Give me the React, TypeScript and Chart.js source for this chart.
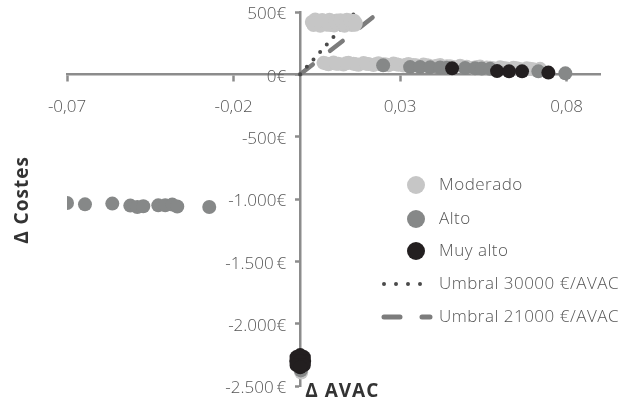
import { useEffect, useRef } from 'react';
import { Chart, registerables } from 'chart.js';

Chart.register(...registerables);

// Axis ticks and their printed labels
const X_TICKS = [-0.07, -0.02, 0.03, 0.08];
const X_TICK_LABELS = ['-0,07', '-0,02', '0,03', '0,08'];
const Y_TICKS = [500, 0, -500, -1000, -1500, -2000, -2500];
const Y_TICK_LABELS = ['500€', '0€', '-500€', '-1.000€', '-1.500\u2009€', '-2.000€', '-2.500\u2009€'];

// Δ AVAC, Δ Costes pairs per risk group
const MODERADO: [number, number][] = [
  [0.0035, 420], [0.004, 395], [0.0045, 440], [0.0052, 410], [0.006, 390],
  [0.0066, 435], [0.0072, 415], [0.008, 398], [0.0088, 438], [0.0095, 412],
  [0.0102, 392], [0.011, 432], [0.0118, 405], [0.0125, 420], [0.0133, 390],
  [0.014, 438], [0.0148, 410], [0.0155, 395], [0.0162, 430], [0.0167, 412],
  [0.0038, 408], [0.0056, 425], [0.0076, 428], [0.0091, 396], [0.0106, 418],
  [0.0121, 434], [0.0137, 414], [0.0151, 432], [0.0165, 398],
  [0.007, 92], [0.0085, 80], [0.01, 95], [0.0115, 85], [0.013, 78],
  [0.0145, 92], [0.016, 84], [0.0175, 76], [0.019, 90], [0.0205, 82],
  [0.022, 74], [0.0235, 88], [0.025, 80], [0.0265, 72], [0.028, 86],
  [0.0295, 76], [0.031, 70], [0.0325, 82], [0.034, 74], [0.0355, 66],
  [0.037, 78], [0.0385, 70], [0.04, 62], [0.042, 74], [0.044, 64],
  [0.046, 58], [0.048, 68], [0.05, 60], [0.052, 52], [0.054, 62],
  [0.056, 54], [0.058, 48], [0.06, 56], [0.062, 46], [0.064, 52],
  [0.066, 42], [0.068, 48], [0.07, 40], [0.072, 44],
  [0.0078, 86], [0.0108, 84], [0.0138, 88], [0.0168, 80], [0.0198, 84],
  [0.0228, 82], [0.0258, 78], [0.0288, 80], [0.0318, 76], [0.0348, 72],
  [0.0378, 72], [0.041, 68], [0.045, 64], [0.049, 60], [0.053, 58],
  [0.057, 52], [0.061, 50], [0.065, 48], [0.069, 44],
  [0.0003, -2392],
];
const ALTO: [number, number][] = [
  [0.0249, 72], [0.033, 58], [0.036, 58], [0.039, 56], [0.042, 55],
  [0.044, 52], [0.0495, 50], [0.0525, 48], [0.0545, 46], [0.057, 44],
  [0.0715, 24], [0.0796, 8],
  [-0.07, -1032], [-0.0646, -1043], [-0.0564, -1037], [-0.051, -1053],
  [-0.0489, -1064], [-0.0471, -1058], [-0.0426, -1051], [-0.0405, -1051],
  [-0.0384, -1045], [-0.0369, -1060], [-0.0273, -1064],
  [0.0002, -2375],
];
const MUY_ALTO: [number, number][] = [
  [0.0456, 48], [0.0591, 26], [0.0627, 24], [0.0666, 24], [0.0745, 14],
  [-0.0011, -2268], [0.0011, -2268], [0.0, -2252], [-0.0012, -2300], [0.0012, -2300],
  [0.0, -2300], [-0.0011, -2332], [0.0011, -2332], [0.0, -2350],
];

// Willingness-to-pay thresholds drawn from the origin
const UMBRAL_30000: [number, number][] = [[0, 0], [0.016, 480]];
const UMBRAL_21000: [number, number][] = [[0, 0], [0.0225, 472.5]];

const LEGEND_LABELS = ['Moderado', 'Alto', 'Muy alto', 'Umbral 30000 €/AVAC', 'Umbral 21000 €/AVAC'];

const FONT = '"Open Sans", "Noto Sans", sans-serif';
const C_MOD = '#c6c6c6';
const C_ALTO = '#868888';
const C_MUY = '#231f20';
const C_DOT = '#4a4a4a';
const C_DASH = '#7c7c7c';
const C_AXIS = '#8c8c8c';
const C_TEXT = '#555555';

const toXY = (arr: [number, number][]) => arr.map(([x, y]) => ({ x, y }));

const overlay = {
  id: 'overlay',
  afterDraw(chart: any) {
    const { ctx, chartArea, scales } = chart;
    const x0 = scales.x.getPixelForValue(0);
    const y0 = scales.y.getPixelForValue(0);
    ctx.save();

    // tick labels
    ctx.fillStyle = C_TEXT;
    ctx.font = `300 17px ${FONT}`;
    ctx.textBaseline = 'middle';
    ctx.textAlign = 'right';
    Y_TICKS.forEach((v, i) => {
      ctx.fillText(Y_TICK_LABELS[i], x0 - 14, scales.y.getPixelForValue(v) + 2.5);
    });
    ctx.textAlign = 'center';
    X_TICKS.forEach((v, i) => {
      ctx.fillText(X_TICK_LABELS[i], scales.x.getPixelForValue(v), y0 + 33);
    });

    // axis titles
    ctx.fillStyle = '#333333';
    ctx.font = `bold 19px ${FONT}`;
    (ctx as any).letterSpacing = '1px';
    ctx.textAlign = 'left';
    ctx.textBaseline = 'middle';
    ctx.fillText('Δ AVAC', x0 + 5, chartArea.bottom + 6);
    ctx.save();
    ctx.translate(23, (chartArea.top + chartArea.bottom) / 2 + 1);
    ctx.rotate(-Math.PI / 2);
    ctx.textAlign = 'center';
    ctx.fillText('Δ Costes', 0, 0);
    ctx.restore();

    // legend
    const lx = 416;
    const tx = 439;
    const rows = [185, 219, 251, 284, 317];
    const colors = [C_MOD, C_ALTO, C_MUY];
    ctx.font = `300 17px ${FONT}`;
    (ctx as any).letterSpacing = '0.5px';
    ctx.textAlign = 'left';
    ctx.textBaseline = 'middle';
    LEGEND_LABELS.forEach((label, i) => {
      const y = rows[i];
      if (i < 3) {
        ctx.beginPath();
        ctx.fillStyle = colors[i];
        ctx.arc(lx, y, 9, 0, Math.PI * 2);
        ctx.fill();
      } else {
        ctx.beginPath();
        ctx.lineCap = 'round';
        if (i === 3) {
          ctx.strokeStyle = C_DOT;
          ctx.lineWidth = 4;
          ctx.setLineDash([0, 12]);
        } else {
          ctx.strokeStyle = C_DASH;
          ctx.lineWidth = 5;
          ctx.setLineDash([16, 22]);
        }
        ctx.moveTo(384, y);
        ctx.lineTo(430, y);
        ctx.stroke();
        ctx.setLineDash([]);
      }
      ctx.fillStyle = C_TEXT;
      ctx.fillText(label, tx, y);
    });
    ctx.restore();
  },
};

export default function App() {
  const ref = useRef<HTMLCanvasElement | null>(null);

  useEffect(() => {
    if (!ref.current) return;
    const chart = new Chart(ref.current, {
      type: 'scatter',
      data: {
        datasets: [
          {
            label: 'Muy alto', data: toXY(MUY_ALTO), backgroundColor: C_MUY,
            pointRadius: 7, pointBorderWidth: 0, order: 1,
          },
          {
            label: 'Alto', data: toXY(ALTO), backgroundColor: C_ALTO,
            pointRadius: 7, pointBorderWidth: 0, order: 2,
          },
          {
            label: 'Moderado', data: toXY(MODERADO), backgroundColor: C_MOD,
            pointRadius: 7, pointBorderWidth: 0, order: 3,
          },
          {
            label: 'Umbral 30000 €/AVAC', data: toXY(UMBRAL_30000), showLine: true,
            borderColor: C_DOT, borderWidth: 4, borderDash: [0, 10], borderCapStyle: 'round',
            pointRadius: 0, order: 4,
          },
          {
            label: 'Umbral 21000 €/AVAC', data: toXY(UMBRAL_21000), showLine: true,
            borderColor: C_DASH, borderWidth: 4.5, borderDash: [16, 22], borderCapStyle: 'round',
            pointRadius: 0, order: 5,
          },
        ] as any,
      },
      options: {
        animation: false,
        responsive: false,
        maintainAspectRatio: false,
        layout: { padding: { left: 67, right: 24, top: 12, bottom: 18 } },
        plugins: { legend: { display: false }, tooltip: { enabled: false } },
        scales: {
          x: {
            type: 'linear',
            min: -0.07,
            max: 0.09,
            position: { y: 0 } as any,
            afterBuildTicks: (scale: any) => {
              scale.ticks = X_TICKS.map((value) => ({ value }));
            },
            ticks: { display: false, autoSkip: false, maxRotation: 0 },
            grid: {
              drawOnChartArea: false,
              drawTicks: true,
              tickLength: 6,
              tickColor: C_AXIS,
              tickWidth: 2.5,
            },
            border: { display: true, color: C_AXIS, width: 2.5 },
          },
          y: {
            type: 'linear',
            min: -2500,
            max: 500,
            position: { x: 0 } as any,
            afterBuildTicks: (scale: any) => {
              scale.ticks = Y_TICKS.map((value) => ({ value }));
            },
            ticks: { display: false, autoSkip: false },
            grid: {
              drawOnChartArea: false,
              drawTicks: true,
              tickLength: 4,
              tickColor: C_AXIS,
              tickWidth: 2.5,
            },
            border: { display: true, color: C_AXIS, width: 2.5 },
          },
        },
      },
      plugins: [overlay],
    });
    return () => chart.destroy();
  }, []);

  return (
    <div style={{ position: 'fixed', left: 0, top: 0, width: 624, height: 404, background: '#ffffff' }}>
      <canvas ref={ref} width={624} height={404} style={{ width: 624, height: 404 }} />
    </div>
  );
}
